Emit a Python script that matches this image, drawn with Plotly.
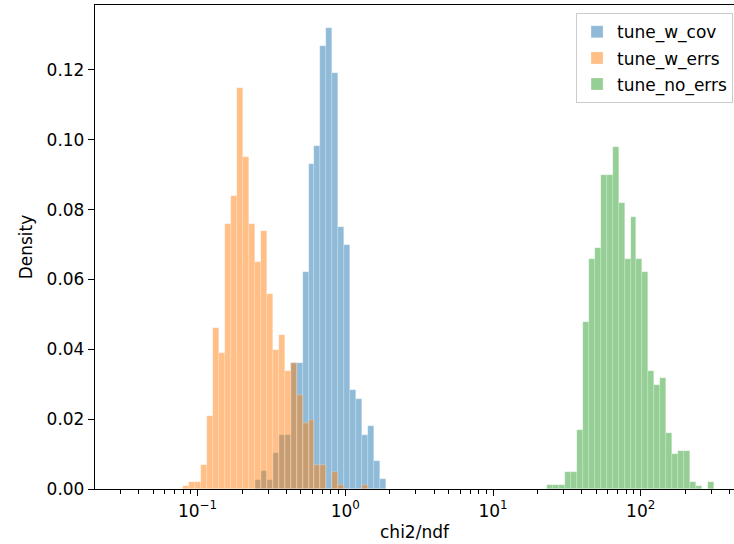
import numpy as np
import plotly.graph_objects as go

# ---- data ----
BIN_MIN = 0.08      # lowest bin edge (chi2/ndf)
BIN_MAX = 313.5     # highest bin edge (chi2/ndf)
N_BINS = 89         # common log-spaced bins

series_names = ["tune_w_cov", "tune_w_errs", "tune_no_errs"]

cov_first_bin = 12
cov_density = [0.0025, 0.0052, 0.0025, 0.0103, 0.0154, 0.0154, 0.0361, 0.0361,
               0.0621, 0.0931, 0.0983, 0.1269, 0.1320, 0.1192, 0.0751, 0.0698,
               0.0284, 0.0259, 0.0154, 0.0180, 0.0079, 0.0028]

errs_first_bin = 0
errs_density = [0.0010, 0.0019, 0.0019, 0.0068, 0.0210, 0.0460, 0.0389, 0.0759,
                0.0839, 0.1149, 0.0950, 0.0759, 0.0650, 0.0739, 0.0558, 0.0398,
                0.0440, 0.0339, 0.0361, 0.0269, 0.0189, 0.0199, 0.0070, 0.0070,
                0.0, 0.0049, 0.0011, 0.0, 0.0, 0.0, 0.0011]

noerr_first_bin = 61
noerr_density = [0.0011, 0.0011, 0.0011, 0.0049, 0.0049, 0.0170, 0.0479, 0.0660,
                 0.0690, 0.0899, 0.0899, 0.0979, 0.0820, 0.0660, 0.0779, 0.0660,
                 0.0620, 0.0339, 0.0299, 0.0319, 0.0160, 0.0099, 0.0109, 0.0109,
                 0.0019, 0.0010, 0.0, 0.0019]

major_tick_exponents = [-1, 0, 1, 2]
y_tick_values = [0.00, 0.02, 0.04, 0.06, 0.08, 0.10, 0.12]

fill_colors = ["rgba(31,119,180,0.5)", "rgba(255,127,14,0.5)", "rgba(44,160,44,0.5)"]

# ---- build ----
log_edges = np.linspace(np.log10(BIN_MIN), np.log10(BIN_MAX), N_BINS + 1)
log_centers = 0.5 * (log_edges[:-1] + log_edges[1:])
log_width = log_edges[1] - log_edges[0]

FONT = "DejaVu Sans"
FS = 17
fig = go.Figure()

for i, (name, first, dens, col) in enumerate(zip(
        series_names,
        [cov_first_bin, errs_first_bin, noerr_first_bin],
        [cov_density, errs_density, noerr_density],
        fill_colors)):
    dens = np.asarray(dens)
    idx = np.arange(first, first + len(dens))
    keep = dens > 0
    fig.add_trace(go.Bar(
        x=log_centers[idx[keep]],
        y=dens[keep],
        width=log_width,
        name=name,
        legendgroup="g%d" % i,
        marker=dict(color=col, line=dict(color="rgba(255,255,255,0.45)", width=0.5)),
    ))

minor_vals = []
for e in range(-2, 3):
    for m in range(2, 10):
        minor_vals.append(np.log10(m * 10.0 ** e))

fig.update_layout(
    width=734, height=544,
    margin=dict(l=95, r=0, t=5, b=55),
    paper_bgcolor="white", plot_bgcolor="white",
    barmode="overlay", bargap=0,
    font=dict(family=FONT, size=FS, color="black"),
    showlegend=True,
    legend=dict(x=0.9985, xanchor="right", y=0.983, yanchor="top",
                bgcolor="rgba(255,255,255,0.8)", bordercolor="#cccccc",
                borderwidth=1, font=dict(size=FS, family=FONT),
                traceorder="grouped", tracegroupgap=1, itemwidth=30),
)

fig.update_xaxes(
    type="linear",
    range=[-1.6946, 2.6317],
    tickmode="array",
    tickvals=major_tick_exponents,
    ticktext=["10<sup>%s</sup>" % (str(e).replace("-", "\u2212")) for e in major_tick_exponents],
    ticks="outside", ticklen=6, tickwidth=1.3, tickcolor="black",
    showline=True, linecolor="black", linewidth=1.3, mirror=True,
    showgrid=False, zeroline=False,
    minor=dict(tickvals=minor_vals, ticks="outside", ticklen=3.5, tickwidth=1,
               tickcolor="black", showgrid=False),
    title=dict(text="chi2/ndf", standoff=6, font=dict(size=FS, family=FONT)),
)

fig.update_yaxes(
    range=[0, 0.1386],
    tickmode="array",
    tickvals=y_tick_values,
    ticktext=["%.2f" % v for v in y_tick_values],
    ticks="outside", ticklen=6, tickwidth=1.3, tickcolor="black",
    showline=True, linecolor="black", linewidth=1.3, mirror=False,
    showgrid=False, zeroline=False,
    title=dict(text="Density", standoff=9, font=dict(size=FS, family=FONT)),
)

fig.write_html("out.html")
